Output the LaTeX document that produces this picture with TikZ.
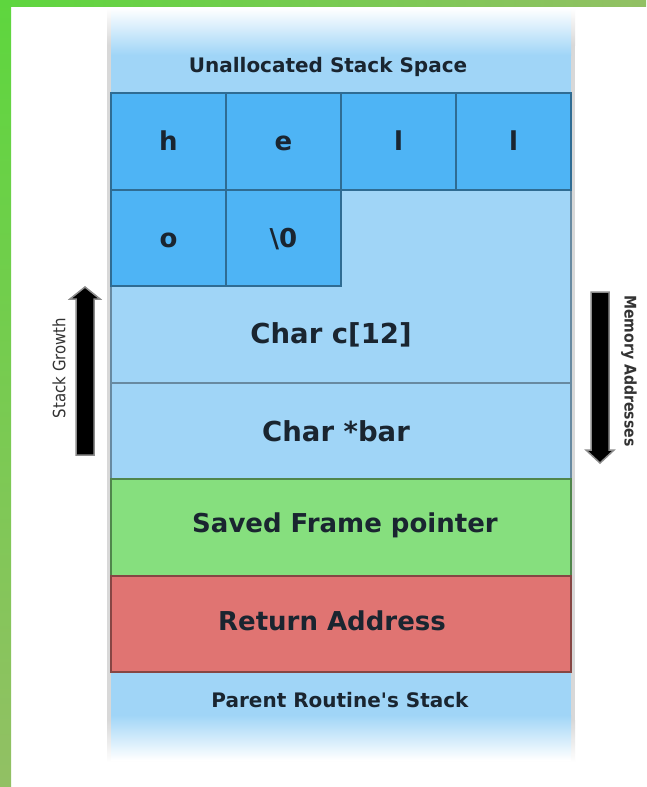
\documentclass[tikz,border=0pt]{standalone}
\usepackage{fontspec}
\setmainfont{DejaVu Sans}
\newfontfamily\sidefont{DejaVu Sans}[FakeStretch=0.88]
\newcommand\straightapos{\XeTeXglyph\XeTeXglyphindex "quotesingle" \relax}
\definecolor{lblue}{HTML}{A0D5F7}
\definecolor{cblue}{HTML}{4EB4F5}
\definecolor{sgreen}{HTML}{86DF7E}
\definecolor{rred}{HTML}{E07472}
\definecolor{gtop}{HTML}{5ED63E}
\definecolor{gend}{HTML}{92C064}
\definecolor{sidegray}{HTML}{D8D8D8}
\definecolor{txt}{HTML}{1A2530}
\begin{document}
\begin{tikzpicture}[x=1pt,y=-1pt,
  rowbox/.style={rectangle, minimum width=460pt, minimum height=96.5pt, inner sep=0pt, outer sep=0pt, line width=2pt},
  cellbox/.style={rectangle, minimum width=115pt, minimum height=96.5pt, inner sep=0pt, outer sep=0pt, fill=cblue, draw=cblue!60!black, line width=2pt},
  big/.style={font=\bfseries\fontsize{26}{30}\selectfont, text=txt},
  celltxt/.style={big, text height=19pt, text depth=0pt, inner sep=0pt},
  bigger/.style={font=\bfseries\fontsize{27.5}{32}\selectfont, text=txt},
  small/.style={font=\bfseries\fontsize{20}{24}\selectfont, text=txt},
  side/.style={font=\sidefont\fontsize{17}{20}\selectfont, text=black!80},
  fatarrow/.style={fill=black, draw=black!45, line width=1.5pt}]
\useasboundingbox (0,0) rectangle (646,787);
\fill[white] (0,0) rectangle (646,787);
% green frame
\shade[left color=gtop, right color=gend] (0,0) rectangle (646,6);
\shade[top color=gtop, bottom color=gend] (0,0) rectangle (11,787);
% gray side strips with fades
\fill[sidegray] (107,45) rectangle (575,720);
\shade[top color=white, bottom color=sidegray] (107,8) rectangle (575,45);
\shade[top color=sidegray, bottom color=white] (107,720) rectangle (575,762);
% unallocated region
\fill[lblue] (111,55) rectangle (571,93);
\shade[top color=white, bottom color=lblue] (111,8) rectangle (571,55);
\node[small] (unalloc) at (328,67) {Unallocated Stack Space};
% parent region
\fill[lblue] (111,672) rectangle (571,715);
\shade[top color=lblue, bottom color=white] (111,715) rectangle (571,760);
\draw[lblue!60!black, line width=2pt] (111,672) -- (571,672);
\node[small] (parent) at (340,700) {Parent Routine\straightapos s Stack};
% char c[12] region
\fill[lblue, draw=lblue!65!black, line width=2pt] (341,189.5) -- (571,189.5) -- (571,382.5) -- (111,382.5) -- (111,286) -- (341,286) -- cycle;
\node[bigger] (carr) at (331,334.5) {Char c[12]};
% cells
\node[cellbox] (c1) at (168.5,141.25) {};
\node[cellbox] (c2) at (283.5,141.25) {};
\node[cellbox] (c3) at (398.5,141.25) {};
\node[cellbox] (c4) at (513.5,141.25) {};
\node[cellbox] (c5) at (168.5,237.75) {};
\node[cellbox] (c6) at (283.5,237.75) {};
\node[celltxt] at (c1) {h};
\node[celltxt] at (c2) {e};
\node[celltxt] at (c3) {l};
\node[celltxt] at (c4) {l};
\node[celltxt] at (c5) {o};
\node[celltxt] at (c6) {\textbackslash 0};
% rows
\node[rowbox, fill=lblue, draw=lblue!65!black] (bar) at (341,430.75) {};
\node[bigger] at (336,431) {Char *bar};
\node[rowbox, fill=sgreen, draw=sgreen!60!black] (sfp) at (341,527.25) {};
\node[big] at (345,525) {Saved Frame pointer};
\node[rowbox, fill=rred, draw=rred!60!black] (ret) at (341,623.75) {};
\node[big] at (332,621) {Return Address};
% arrows
\fill[fatarrow] (76,455) -- (76,299) -- (70,299) -- (85,287) -- (100,299) -- (94,299) -- (94,455) -- cycle;
\fill[fatarrow] (591,292) -- (591,450) -- (586,450) -- (600,463) -- (614,450) -- (609,450) -- (609,292) -- cycle;
\node[side, rotate=90] (sg) at (59,368) {Stack Growth};
\node[side, rotate=-90, font=\sidefont\bfseries\fontsize{16}{20}\selectfont] (ma) at (629,371) {Memory Addresses};
\end{tikzpicture}
\end{document}
